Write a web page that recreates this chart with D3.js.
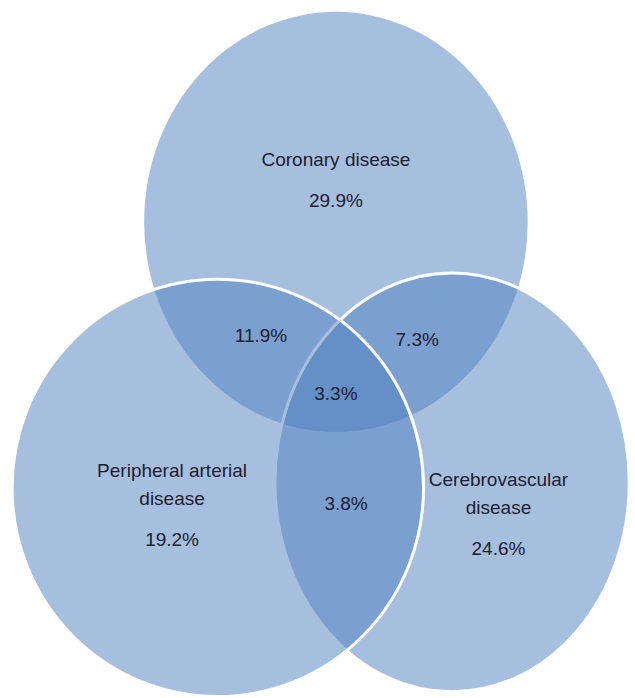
<!DOCTYPE html>
<html>
<head>
<meta charset="utf-8">
<script src="https://cdn.jsdelivr.net/npm/d3@7"></script>
<style>
  body { margin: 0; background: #fff; }
  text { font-family: "Liberation Sans Narrow", "Arial Narrow", "Liberation Sans", Arial, sans-serif; fill: #1c2030; }
</style>
</head>
<body>
<div id="chart"></div>
<script>
// Data: share of patients in each region of the Venn diagram
const setNames = ["Coronary disease", "Peripheral arterial disease", "Cerebrovascular disease"];
const setOnly = [29.9, 19.2, 24.6];
const pairNames = ["Coronary + Peripheral", "Coronary + Cerebrovascular", "Peripheral + Cerebrovascular"];
const pairValues = [11.9, 7.3, 3.8];
const allThree = 3.3;

// Layout in percent of the canvas (x: 0-100, y: 0-100)
const circles = [
  {cx: 52.9, cy: 31.8, rx: 30.2, ry: 30.1, stroke: false},  // coronary
  {cx: 71.2, cy: 69.1, rx: 27.9, ry: 30.0, stroke: true},   // cerebrovascular
  {cx: 34.3, cy: 69.9, rx: 32.4, ry: 29.9, stroke: true}    // peripheral
];
const setLabelPos = [[52.9, 23.8], [27.1, 68.3], [78.5, 69.6]];
const setLines = [["Coronary disease"], ["Peripheral arterial", "disease"], ["Cerebrovascular", "disease"]];
const pairLabelPos = [[41.1, 48.3], [65.7, 48.9], [54.5, 72.4]];
const tripleLabelPos = [52.9, 56.6];

const width = 635, height = 698;

const x = d3.scaleLinear().domain([0, 100]).range([0, width]);
const y = d3.scaleLinear().domain([0, 100]).range([0, height]);
const fmt = d => d.toFixed(1) + "%";

const svg = d3.select("#chart")
  .append("svg")
    .attr("width", width)
    .attr("height", height);

// Circles
svg.selectAll("ellipse")
  .data(circles)
  .join("ellipse")
    .attr("cx", d => x(d.cx))
    .attr("cy", d => y(d.cy))
    .attr("rx", d => x(d.rx))
    .attr("ry", d => y(d.ry))
    .attr("fill", "#5080c0")
    .attr("fill-opacity", 0.5)
    .attr("stroke", d => d.stroke ? "#fff" : "none")
    .attr("stroke-width", 3);

const fs = 19, lh = 28;

// Set labels (name + exclusive share)
setNames.forEach((name, i) => {
  const [px, py] = setLabelPos[i];
  const t = svg.append("text")
    .attr("text-anchor", "middle")
    .attr("font-size", fs)
    .attr("x", x(px))
    .attr("y", y(py));
  setLines[i].forEach((line, j) => {
    t.append("tspan").attr("x", x(px)).attr("dy", j === 0 ? 0 : lh).text(line);
  });
  t.append("tspan").attr("x", x(px)).attr("dy", lh + 13).text(fmt(setOnly[i]));
});

// Pairwise overlaps
svg.selectAll("text.pair")
  .data(pairValues)
  .join("text")
    .attr("class", "pair")
    .attr("text-anchor", "middle")
    .attr("dominant-baseline", "middle")
    .attr("font-size", fs)
    .attr("x", (d, i) => x(pairLabelPos[i][0]))
    .attr("y", (d, i) => y(pairLabelPos[i][1]))
    .text(fmt);

// Triple overlap
svg.append("text")
  .attr("text-anchor", "middle")
  .attr("dominant-baseline", "middle")
  .attr("font-size", fs)
  .attr("x", x(tripleLabelPos[0]))
  .attr("y", y(tripleLabelPos[1]))
  .text(fmt(allThree));
</script>
</body>
</html>
